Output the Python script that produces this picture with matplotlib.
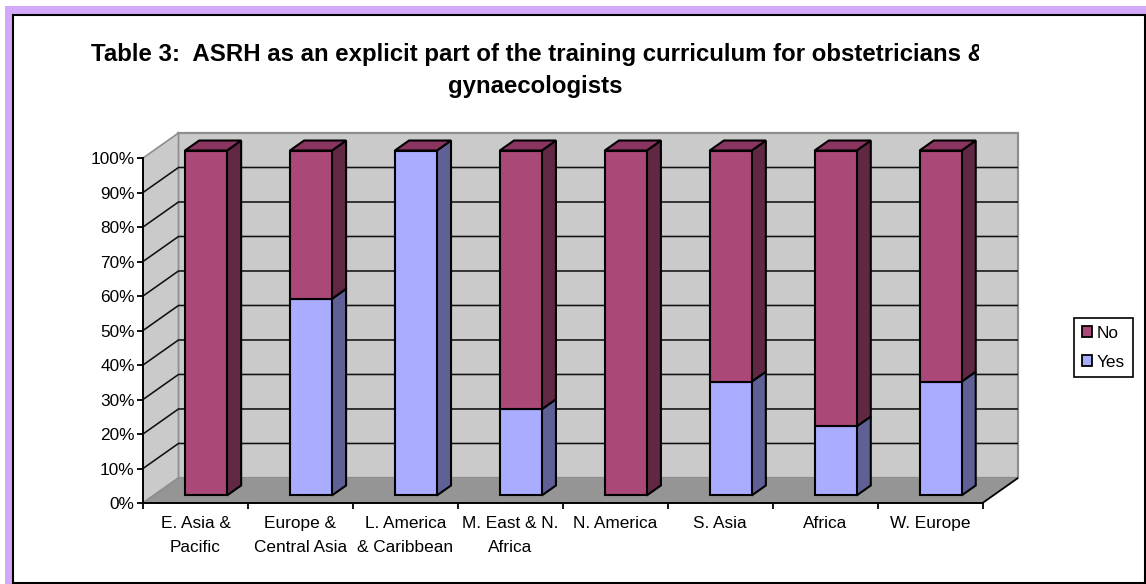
import matplotlib
matplotlib.use("Agg")
import matplotlib.pyplot as plt
from matplotlib.patches import Patch, Rectangle

plt.rcParams["font.family"] = ["Liberation Sans", "DejaVu Sans"]

categories = ["E. Asia &\nPacific", "Europe &\nCentral Asia", "L. America\n& Caribbean",
              "M. East & N.\nAfrica", "N. America", "S. Asia", "Africa", "W. Europe"]
yes_values = [0, 57, 100, 25, 0, 33, 20, 33]
no_values = [100, 43, 0, 75, 100, 67, 80, 67]
y_ticks = [0, 10, 20, 30, 40, 50, 60, 70, 80, 90, 100]
title_1 = "Table 3:  ASRH as an explicit part of the training curriculum for obstetricians &"
title_2 = "gynaecologists"

W, H = 1146, 584

# 3d look: how far the back wall sits behind the front plane, in data units
DX = 35.5 / 105
DY = 25 / 3.445


def project(x, y, d):
    return x + d * DX, y + d * DY


def face(ax, corners, color, z, edge="black", lw=1.5):
    xs = [c[0] for c in corners]
    ys = [c[1] for c in corners]
    ax.fill(xs, ys, facecolor=color, edgecolor=edge, linewidth=lw, zorder=z, joinstyle="miter")


fig = plt.figure(figsize=(W / 100, H / 100), dpi=100, facecolor="white")

# lavender page band and the chart frame
fig.add_artist(Rectangle((5 / W, 0), (W - 5) / W, 1 - 6 / H, transform=fig.transFigure,
                         facecolor="#D3A9FB", edgecolor="none", zorder=-3))
fig.add_artist(Rectangle((12.5 / W, 1 / H), (1145 - 12.5) / W, (583 - 15) / H, transform=fig.transFigure,
                         facecolor="white", edgecolor="black", linewidth=1.5, zorder=-2))

ax = fig.add_axes([143 / W, 1 - 503 / H, (1018 - 143) / W, (503 - 133) / H])
ax.patch.set_visible(False)
n = len(categories)
ax.set_xlim(0, n + DX)
ax.set_ylim(0, 100 + DY)

# walls and floor
wall = "#CACACA"
wall_edge = "#8E8E8E"
ax.fill([project(0, 0, 1)[0], project(n, 0, 1)[0], project(n, 100, 1)[0], project(0, 100, 1)[0]],
        [project(0, 0, 1)[1], project(n, 0, 1)[1], project(n, 100, 1)[1], project(0, 100, 1)[1]],
        facecolor=wall, edgecolor=wall_edge, linewidth=1.6, zorder=1, clip_on=False)
ax.fill([0, project(0, 0, 1)[0], project(0, 100, 1)[0], 0],
        [0, project(0, 0, 1)[1], project(0, 100, 1)[1], 100],
        facecolor=wall, edgecolor=wall_edge, linewidth=1.2, zorder=1)
ax.fill([0, n, project(n, 0, 1)[0], project(0, 0, 1)[0]],
        [0, 0, project(n, 0, 1)[1], project(0, 0, 1)[1]],
        facecolor="#959595", edgecolor="none", zorder=2)
ax.plot([n, project(n, 0, 1)[0]], [0, project(n, 0, 1)[1]], color="black", lw=1.3, zorder=3)
ax.plot([0, project(0, 0, 1)[0]], [0, project(0, 0, 1)[1]], color=wall_edge, lw=1.2, zorder=3)

for t in y_ticks[1:-1]:
    bx, by = project(0, t, 1)
    ex, ey = project(n, t, 1)
    ax.plot([0, bx, ex], [t, by, ey], color="#111111", lw=1.15, zorder=2, solid_joinstyle="miter")

# bars, one stacked column per category
bar_w = 42 / 105
off = 0.3
depth = 0.4
left_gap = (185 - 143 - off * 35.5) / 105
series = [(yes_values, "#A9ACFF", "#5F6096"),
          (no_values, "#AA4878", "#602843")]
top_color = "#8A3560"

for i in range(n):
    x0 = i + left_gap
    bottom = 0
    for vals, front, side in series:
        v = vals[i]
        if v == 0:
            continue
        a = project(x0, bottom, off)
        b = project(x0 + bar_w, bottom + v, off)
        ax.bar(a[0], v, bottom=a[1], width=bar_w, align="edge", color=front,
               edgecolor="black", linewidth=1.5, zorder=6)
        face(ax, [b, project(x0 + bar_w, bottom + v, off + depth),
                  project(x0 + bar_w, bottom, off + depth), project(x0 + bar_w, bottom, off)], side, 5)
        bottom += v
    face(ax, [project(x0, 100, off), project(x0 + bar_w, 100, off),
              project(x0 + bar_w, 100, off + depth), project(x0, 100, off + depth)],
         top_color, 5)

# front axes
for s in ["top", "right"]:
    ax.spines[s].set_visible(False)
ax.spines["left"].set_bounds(0, 100)
ax.spines["bottom"].set_bounds(0, n)
ax.spines["left"].set_linewidth(1.4)
ax.spines["bottom"].set_linewidth(1.4)
ax.spines["left"].set_zorder(7)
ax.spines["bottom"].set_zorder(7)
ax.set_yticks(y_ticks)
ax.set_yticklabels([f"{t}%" for t in y_ticks])
ax.set_xticks(range(n + 1))
ax.set_xticklabels([])
ax.set_xticks([i + 0.5 for i in range(n)], minor=True)
ax.set_xticklabels(categories, minor=True, linespacing=1.7)
ax.tick_params(axis="both", which="major", length=4, width=1.3, color="black")
ax.tick_params(axis="x", which="minor", length=0, pad=9.5, labelsize=12.4)
ax.tick_params(axis="y", labelsize=12.4, pad=2)

# legend
handles = [Patch(facecolor="#AA4878", edgecolor="black", label="No", linewidth=1.3),
           Patch(facecolor="#A9ACFF", edgecolor="black", label="Yes", linewidth=1.3)]
leg = fig.legend(handles=handles, loc="upper left", bbox_to_anchor=(1074 / W, 1 - 318 / H),
                 bbox_transform=fig.transFigure, fontsize=12.4, frameon=True, fancybox=False,
                 framealpha=1, edgecolor="black", handlelength=0.62, handleheight=0.65,
                 handletextpad=0.25, labelspacing=0.8, borderpad=0.45, borderaxespad=0)
leg.get_frame().set_linewidth(1.2)

# title, first line runs past its box and is cut off as in the original
clip = Rectangle((0, 0), 978.5 / W, 1, transform=fig.transFigure)
t1 = fig.text(538 / W, 1 - 54 / H, title_1, ha="center", va="center", fontsize=17.3, fontweight="bold",
              clip_on=True)
t1.set_clip_path(clip)
fig.text(535.5 / W, 1 - 86 / H, title_2, ha="center", va="center", fontsize=17.3, fontweight="bold")

fig.savefig("out.png", dpi=100)
